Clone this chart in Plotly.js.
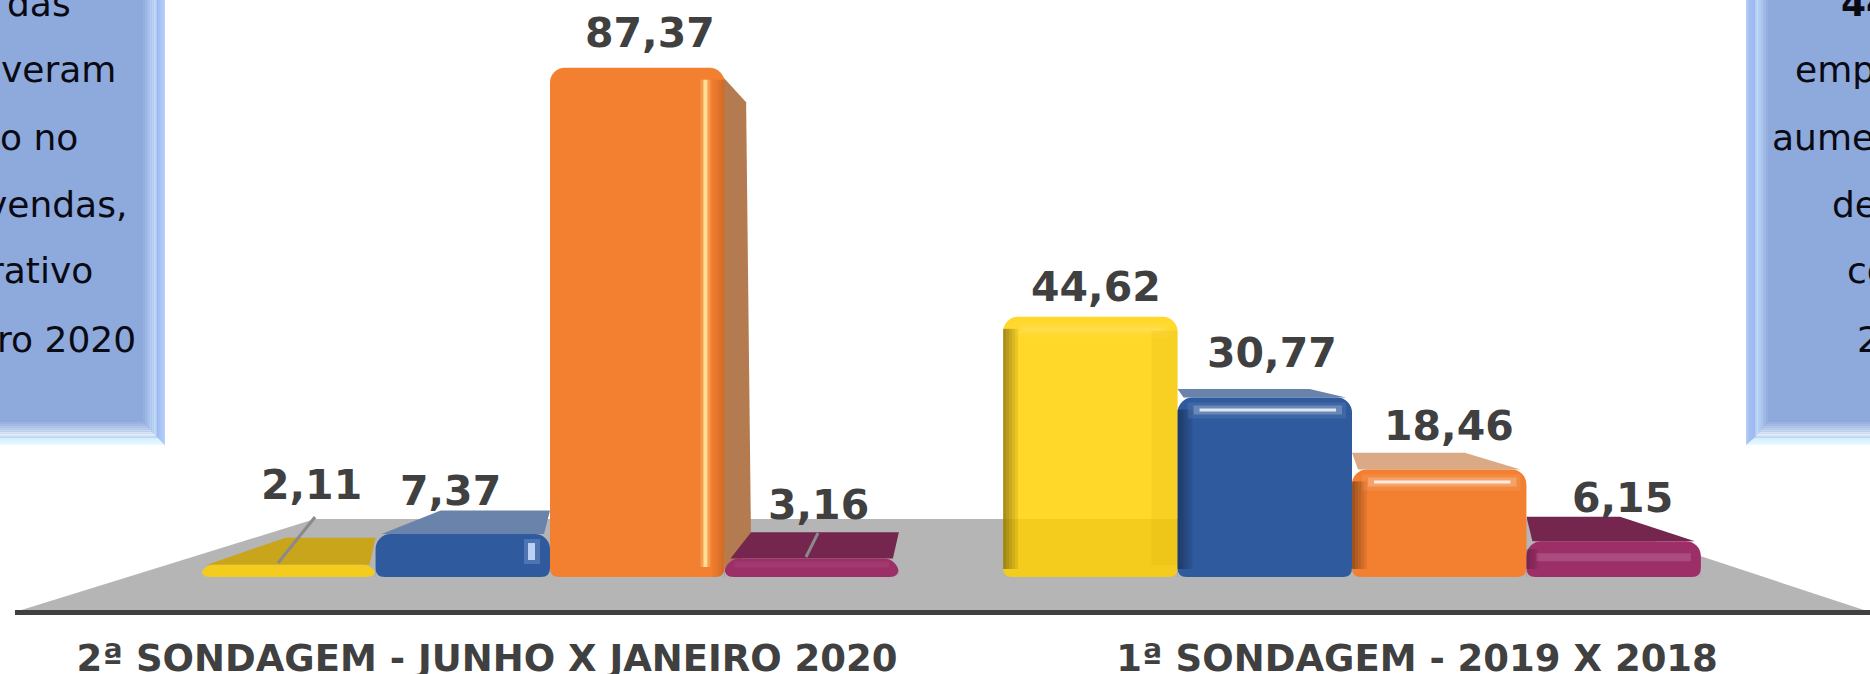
<!DOCTYPE html>
<html><head><meta charset="utf-8">
<script src="https://cdn.plot.ly/plotly-3.0.1.min.js"></script>
<style>html,body{margin:0;padding:0;background:#fff;overflow:hidden}#c{width:1870px;height:674px}</style>
</head><body><div id="c"></div>
<script>
// DATA
const categories = ["2ª SONDAGEM - JUNHO X JANEIRO 2020", "1ª SONDAGEM - 2019 X 2018"];
const seriesYellow = [2.11, 44.62];
const seriesBlue = [7.37, 30.77];
const seriesOrange = [87.37, 18.46];
const seriesPurple = [3.16, 6.15];
const leftPanelLines = ["das", "veram", "o no", "vendas,", "rativo", "ro 2020"];
const rightPanelLines = ["44", "emp", "aume", "de", "co", "2"];

// LAYOUT GEOMETRY
const W = 1870, H = 674, mL = 15, axisPy = 610;
const x0Px = 550, groupPx = 802, basePy = 577, pxPerUnit = 5.83;
const X = px => (px - x0Px) / groupPx;
const Y = py => (basePy - py) / pxPerUnit;
const PX = px => (px - mL) / (W - mL);
const PY = py => (axisPy - py) / axisPy;
const bargap = 0.13, slot = (1 - bargap) / 4;
const vx = X(967), vy = Y(319), k = 0.11;
const back = (x, y) => [x + k * (vx - x), y + k * (vy - y)];
const seriesList = [
  {name: "Amarelo", y: seriesYellow, color: "#FFD000", op: 0.84, top: "#C9A51C", side: "#B8951A"},
  {name: "Azul", y: seriesBlue, color: "#2F5A9E", op: 1, top: "#6A83AB", side: "#4A6A9C"},
  {name: "Laranja", y: seriesOrange, color: "#F37F30", op: 1, top: "#D9AA85", side: "#B57B50"},
  {name: "Roxo", y: seriesPurple, color: "#9C2F68", op: 1, top: "#74264F", side: "#74264F"}
];
const poly = (pts) => "M" + pts.map(p => p[0] + "," + p[1]).join("L") + "Z";
const pxPoly = (pts) => "M" + pts.map(p => PX(p[0]) + "," + PY(p[1])).join("L") + "Z";
const shapes = [];

// ground plane
shapes.push({type: "path", xref: "paper", yref: "paper", layer: "below", line: {width: 0}, fillcolor: "#B5B5B5",
  path: pxPoly([[15, 612], [315, 519], [1588, 519], [1870, 612]])});

// 3D depth derived from the values
seriesList.forEach((s, i) => {
  s.y.forEach((v, g) => {
    const l = g + (i - 2) * slot, r = l + slot;
    const bl = back(l, v), br = back(r, v), b0 = back(r, 0);
    // a side wall shows only on tall bars; a top face only below the horizon
    if (r < vx && v > vy) {
      const chamfer = 14 / pxPerUnit;
      shapes.push({type: "path", xref: "x", yref: "y", layer: "below", line: {width: 0}, fillcolor: s.side,
        path: poly([[r - 8 / groupPx, v - 2 / pxPerUnit], [br[0] - 5 / groupPx, br[1] - chamfer * 0.5], b0, [r, 0]])});
    }
    if (v < vy - 1) {
      const lx = Math.max(bl[0], l), rx = Math.min(br[0], r);
      shapes.push({type: "path", xref: "x", yref: "y", layer: "below", line: {width: 0}, fillcolor: s.top,
        path: poly([[l + 6 / groupPx, v], [r - 6 / groupPx, v], [rx, br[1]], [lx, bl[1]]])});
    }
  });
});

// gloss strips over bars
function strip(xa, ya, xb, yb, color, opacity) {
  shapes.push({type: "rect", xref: "x", yref: "y", layer: "above", x0: xa, x1: xb, y0: ya, y1: yb,
    line: {width: 0}, fillcolor: color, opacity: opacity});
}
const dx = px => px / groupPx, dy = px => px / pxPerUnit;
seriesList.forEach((s, i) => {
  s.y.forEach((v, g) => {
    const l = g + (i - 2) * slot, r = l + slot;
    if (g === 1 && v > 10) {
      for (let n = 0; n < 5; n++) strip(l + dx(n * 3), dy(8), l + dx(n * 3 + 3), v - dy(12), "#000", 0.34 - n * 0.065);
      strip(l + dx(22), v - dy(14), r - dx(16), v - dy(11), "#fff", i === 0 ? 0.1 : 0.8);
      strip(l + dx(16), v - dy(17), r - dx(10), v - dy(8), "#fff", i === 0 ? 0.06 : 0.22);
      strip(l + dx(10), v - dy(21), r - dx(6), v - dy(5), "#fff", i === 0 ? 0.03 : 0.08);
    }
    if (g === 0 && v > 50) {
      strip(r - dx(21), dy(10), r - dx(17), v - dy(12), "#FFF0B0", 0.9);
      strip(r - dx(24), dy(10), r - dx(14), v - dy(12), "#FFD080", 0.35);
      for (let n = 0; n < 4; n++) strip(r - dx(12 - n * 3), 0, r - dx(9 - n * 3), v - dy(12), "#7A3A10", 0.06 + n * 0.07);
    }
    if (i === 1 && g === 0) {
      strip(r - dx(22), v - dy(26), r - dx(15), v - dy(9), "#CFE2FF", 0.85);
      strip(r - dx(26), v - dy(30), r - dx(10), v - dy(5), "#CFE2FF", 0.2);
    }
    if (i === 3) {
      strip(l + dx(10), v - dy(g === 1 ? 12 : 3), r - dx(10), v - dy(g === 1 ? 20 : 9), "#fff", g === 1 ? 0.14 : 0.05);
      if (g === 1) for (let n = 0; n < 4; n++) strip(l + dx(n * 3), dy(8), l + dx(n * 3 + 3), v - dy(8), "#000", 0.22 - n * 0.05);
    }
    if (i === 0 && g === 1) strip(r - dx(26), dy(12), r, v - dy(14), "#C89A00", 0.12);
    // rounded feet: plane colour fills the two lower corners of each front face
    const R = 9;
    shapes.push({type: "path", xref: "x", yref: "y", layer: "above", line: {width: 0}, fillcolor: "#B5B5B5",
      path: `M${l},0L${l + dx(R)},0Q${l},0 ${l},${dy(Math.min(R, v * pxPerUnit * 0.6))}Z`});
    shapes.push({type: "path", xref: "x", yref: "y", layer: "above", line: {width: 0}, fillcolor: "#B5B5B5",
      path: `M${r},0L${r - dx(R)},0Q${r},0 ${r},${dy(Math.min(R, v * pxPerUnit * 0.6))}Z`});
  });
});

// bevelled side panels
function mix(a, b, t) {
  const h = c => [1, 3, 5].map(n => parseInt(c.substr(n, 2), 16));
  const A = h(a), B = h(b);
  return "rgb(" + A.map((q, n) => Math.round(q + (B[n] - q) * t)).join(",") + ")";
}
function panel(xIn, xFace, xLine, xOut, dir) {
  const yF = 422, yL = 437, yO = 445, far = dir > 0 ? -20 : W + 20, top = -20;
  const add = (pts, c) => shapes.push({type: "path", xref: "paper", yref: "paper", layer: "below",
    line: {width: 0}, fillcolor: c, path: pxPoly(pts)});
  const N = 8;
  add([[far, top], [xOut, top], [xOut, yO], [far, yO]], "#8EA9DB");
  for (let n = 0; n < N; n++) {
    const a = n / N, b = (n + 1) / N;
    const xa = xOut + (xLine - xOut) * a, xb = xOut + (xLine - xOut) * b;
    const ya = yO + (yL - yO) * a, yb = yO + (yL - yO) * b;
    add([[xa, top], [xb, top], [xb, yb], [xa, ya]], mix("#B5CEFB", "#9DB9F2", a));
    add([[far, ya], [far, yb], [xb, yb], [xa, ya]], mix("#E6FAFF", "#CDEBFF", a));
  }
  for (let n = 0; n < N; n++) {
    const a = n / N, b = (n + 1) / N;
    const xa = xLine + (xFace - xLine) * a, xb = xLine + (xFace - xLine) * b;
    const ya = yL + (yF - yL) * a, yb = yL + (yF - yL) * b;
    add([[xa, top], [xb, top], [xb, yb], [xa, ya]], mix("#C9E2FF", "#8EA9DB", a));
    add([[far, ya], [far, yb], [xb, yb], [xa, ya]], mix("#EAF7FF", "#8EA9DB", a));
  }
  add([[far, top], [xFace, top], [xFace, yF], [far, yF]], "#8EA9DB");
  shapes.push({type: "line", xref: "paper", yref: "paper", layer: "below", x0: PX(xLine), x1: PX(xLine), y0: PY(top), y1: PY(yL), line: {color: "#9FB6E0", width: 1}});
  shapes.push({type: "line", xref: "paper", yref: "paper", layer: "below", x0: PX(far), x1: PX(xLine), y0: PY(yL), y1: PY(yL), line: {color: "#A9C0E6", width: 1}});
}
panel(0, 143, 157, 165, 1);
panel(W, 1768, 1755, 1746, -1);

// leader lines
[[[315, 517], [278, 563]], [[818, 533], [806, 557]]].forEach(l => shapes.push({type: "line", xref: "x", yref: "y", layer: "above",
  x0: X(l[0][0]), y0: Y(l[0][1]), x1: X(l[1][0]), y1: Y(l[1][1]), line: {color: "#8A8A8A", width: 3}}));

// value labels
const labelXShift = [[23, 6], [-12, 7], [13, 10], [7, 9]];
const labelYShift = [[80, 30], [43, 45], [35, 43], [54, 43]];
const annotations = [];
const fmt = v => v.toFixed(2).replace(".", ",");
seriesList.forEach((s, i) => s.y.forEach((v, g) => annotations.push({
  xref: "x", yref: "y", x: g + (i - 1.5) * slot, y: v, text: fmt(v), showarrow: false,
  xanchor: "center", yanchor: "middle", xshift: labelXShift[i][g], yshift: labelYShift[i][g],
  font: {family: "DejaVu Sans", size: 41, color: "#404040", weight: 700}
})));

// panel text
const lineBase = [17, 83, 151, 218, 284, 353];
const leftRight = [72, 117, 79, 128, 94, 137];
const rightLeft = [1840, 1794, 1771, 1831, 1846, 1856];
leftPanelLines.forEach((t, n) => annotations.push({xref: "paper", yref: "paper", x: PX(leftRight[n]), y: PY(lineBase[n] + 8),
  text: t, showarrow: false, xanchor: "right", yanchor: "bottom", borderpad: 0,
  font: {family: "DejaVu Sans", size: 36, color: "#0A0A14"}}));
rightPanelLines.forEach((t, n) => annotations.push({xref: "paper", yref: "paper", x: PX(rightLeft[n]), y: PY(lineBase[n] + 8),
  text: n === 0 ? "<b>" + t + "</b>" : t, showarrow: false, xanchor: "left", yanchor: "bottom", borderpad: 0,
  font: {family: "DejaVu Sans", size: 36, color: "#0A0A14"}}));

const traces = seriesList.map(s => ({
  type: "bar", name: s.name, x: [0, 1], y: s.y, hoverinfo: "skip",
  marker: {color: s.color, opacity: s.op, cornerradius: 15, line: {width: 0}}
}));

const layout = {
  width: W, height: H, showlegend: false,
  margin: {l: mL, r: 0, t: 0, b: H - axisPy, pad: 0},
  paper_bgcolor: "#fff", plot_bgcolor: "rgba(0,0,0,0)",
  barmode: "group", bargap: bargap, bargroupgap: 0,
  xaxis: {
    range: [X(mL), X(W)], tickmode: "array", tickvals: [X(487), X(1417)], ticktext: categories,
    showgrid: false, zeroline: false, showline: true, linecolor: "#404040", linewidth: 5,
    ticks: "outside", ticklen: 12, tickcolor: "rgba(0,0,0,0)",
    tickfont: {family: "DejaVu Sans", size: 37, color: "#404040", weight: 700}, tickangle: 0, automargin: false
  },
  yaxis: {range: [Y(axisPy), Y(0)], visible: false, fixedrange: true},
  shapes: shapes, annotations: annotations
};
Plotly.newPlot("c", traces, layout, {displayModeBar: false, staticPlot: true});
</script></body></html>
